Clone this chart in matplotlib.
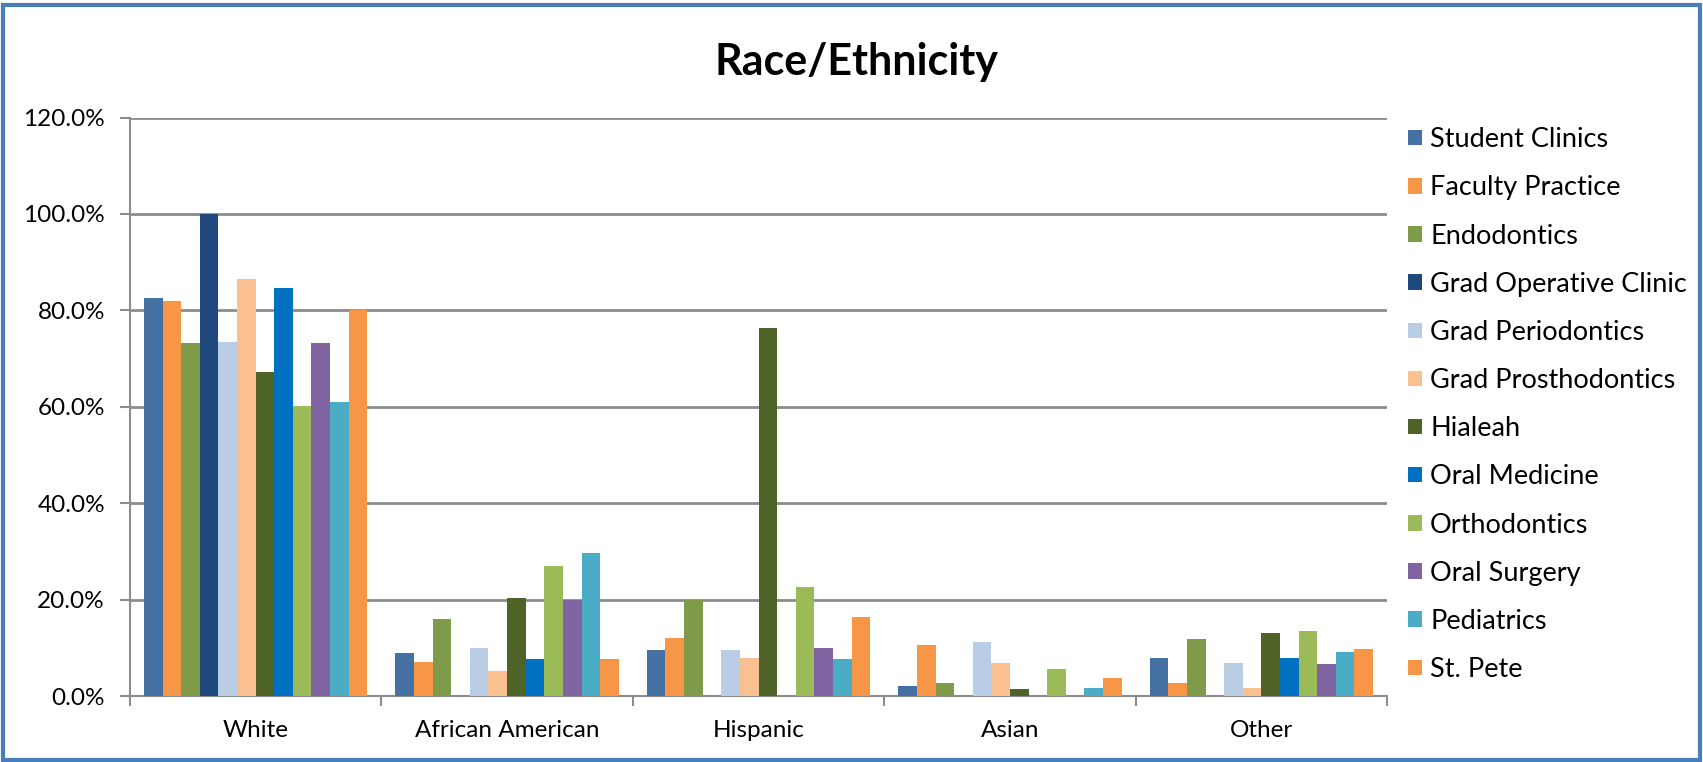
import numpy as np
import matplotlib.pyplot as plt
from matplotlib.patches import Rectangle
from matplotlib.ticker import FuncFormatter, FixedLocator

plt.rcParams['font.family'] = ['Lato', 'DejaVu Sans']

groups = ['White', 'African American', 'Hispanic', 'Asian', 'Other']
clinics = ['Student Clinics', 'Faculty Practice', 'Endodontics', 'Grad Operative Clinic',
           'Grad Periodontics', 'Grad Prosthodontics', 'Hialeah', 'Oral Medicine',
           'Orthodontics', 'Oral Surgery', 'Pediatrics', 'St. Pete']
colors = ['#4470A2', '#F79646', '#7F9A48', '#1F497D', '#B9CDE5', '#FAC090',
          '#4F6228', '#0070C0', '#9BBB59', '#8064A2', '#4BACC6', '#F79646']

# percent share per clinic, one value per group (White, AA, Hispanic, Asian, Other)
student_clinics = [82.6, 9.0, 9.6, 2.1, 7.9]
faculty_practice = [81.9, 7.1, 12.1, 10.5, 2.6]
endodontics = [73.2, 15.9, 20.0, 2.6, 11.9]
grad_operative = [100.0, 0.0, 0.0, 0.0, 0.0]
grad_periodontics = [73.4, 10.0, 9.6, 11.2, 6.8]
grad_prosthodontics = [86.5, 5.1, 7.8, 6.9, 1.7]
hialeah = [67.2, 20.4, 76.4, 1.5, 13.1]
oral_medicine = [84.7, 7.7, 0.0, 0.0, 7.8]
orthodontics = [60.2, 26.9, 22.6, 5.6, 13.4]
oral_surgery = [73.2, 20.0, 9.9, 0.0, 6.6]
pediatrics = [61.0, 29.7, 7.7, 1.7, 9.2]
st_pete = [80.0, 7.7, 16.3, 3.8, 9.8]

series = [student_clinics, faculty_practice, endodontics, grad_operative,
          grad_periodontics, grad_prosthodontics, hialeah, oral_medicine,
          orthodontics, oral_surgery, pediatrics, st_pete]

fig = plt.figure(figsize=(17.03, 7.62), dpi=100)
ax = fig.add_axes([0.0763, 0.0866, 0.7382, 0.7592])

x = np.arange(len(groups))
bar_w = 0.074
offsets = (np.arange(len(series)) - (len(series) - 1) / 2) * bar_w
for i, (name, vals) in enumerate(zip(clinics, series)):
    ax.bar(x + offsets[i], np.array(vals) / 100, width=bar_w, color=colors[i],
           label=name, zorder=3)

ax.set_xlim(-0.5, len(groups) - 0.5)
ax.set_ylim(0, 1.2)
ax.set_yticks(np.arange(0, 1.21, 0.2))
ax.yaxis.set_major_formatter(FuncFormatter(lambda v, _: f'{v * 100:.1f}%'))
ax.grid(axis='y', color='#8C8C8C', linewidth=2, zorder=0)

ax.set_xticks(x)
ax.set_xticklabels(groups)
ax.xaxis.set_minor_locator(FixedLocator(np.arange(-0.5, len(groups), 1.0)))
ax.tick_params(axis='x', which='major', length=0, pad=17, labelsize=17.5)
ax.tick_params(axis='x', which='minor', length=7, width=1.5, color='#8C8C8C')
ax.tick_params(axis='y', length=7, width=1.5, color='#8C8C8C', pad=11, labelsize=17.5)

for side in ['top', 'right']:
    ax.spines[side].set_visible(False)
for side in ['left', 'bottom']:
    ax.spines[side].set_color('#8C8C8C')
    ax.spines[side].set_linewidth(1.5)

fig.text(0.503, 0.918, 'Race/Ethnicity', ha='center', va='center',
         fontsize=31, fontweight='bold')

leg = fig.legend(loc='upper left', bbox_to_anchor=(0.827, 0.833), frameon=False,
                 fontsize=19.5, handlelength=0.5, handleheight=0.5, borderpad=0,
                 borderaxespad=0, handletextpad=0.3, labelspacing=0.855)

fig.patches.append(Rectangle((0.002, 0.003), 0.996, 0.990, transform=fig.transFigure,
                             fill=False, edgecolor='#4A7EBB', linewidth=3))

fig.savefig('out.png', dpi=100)
